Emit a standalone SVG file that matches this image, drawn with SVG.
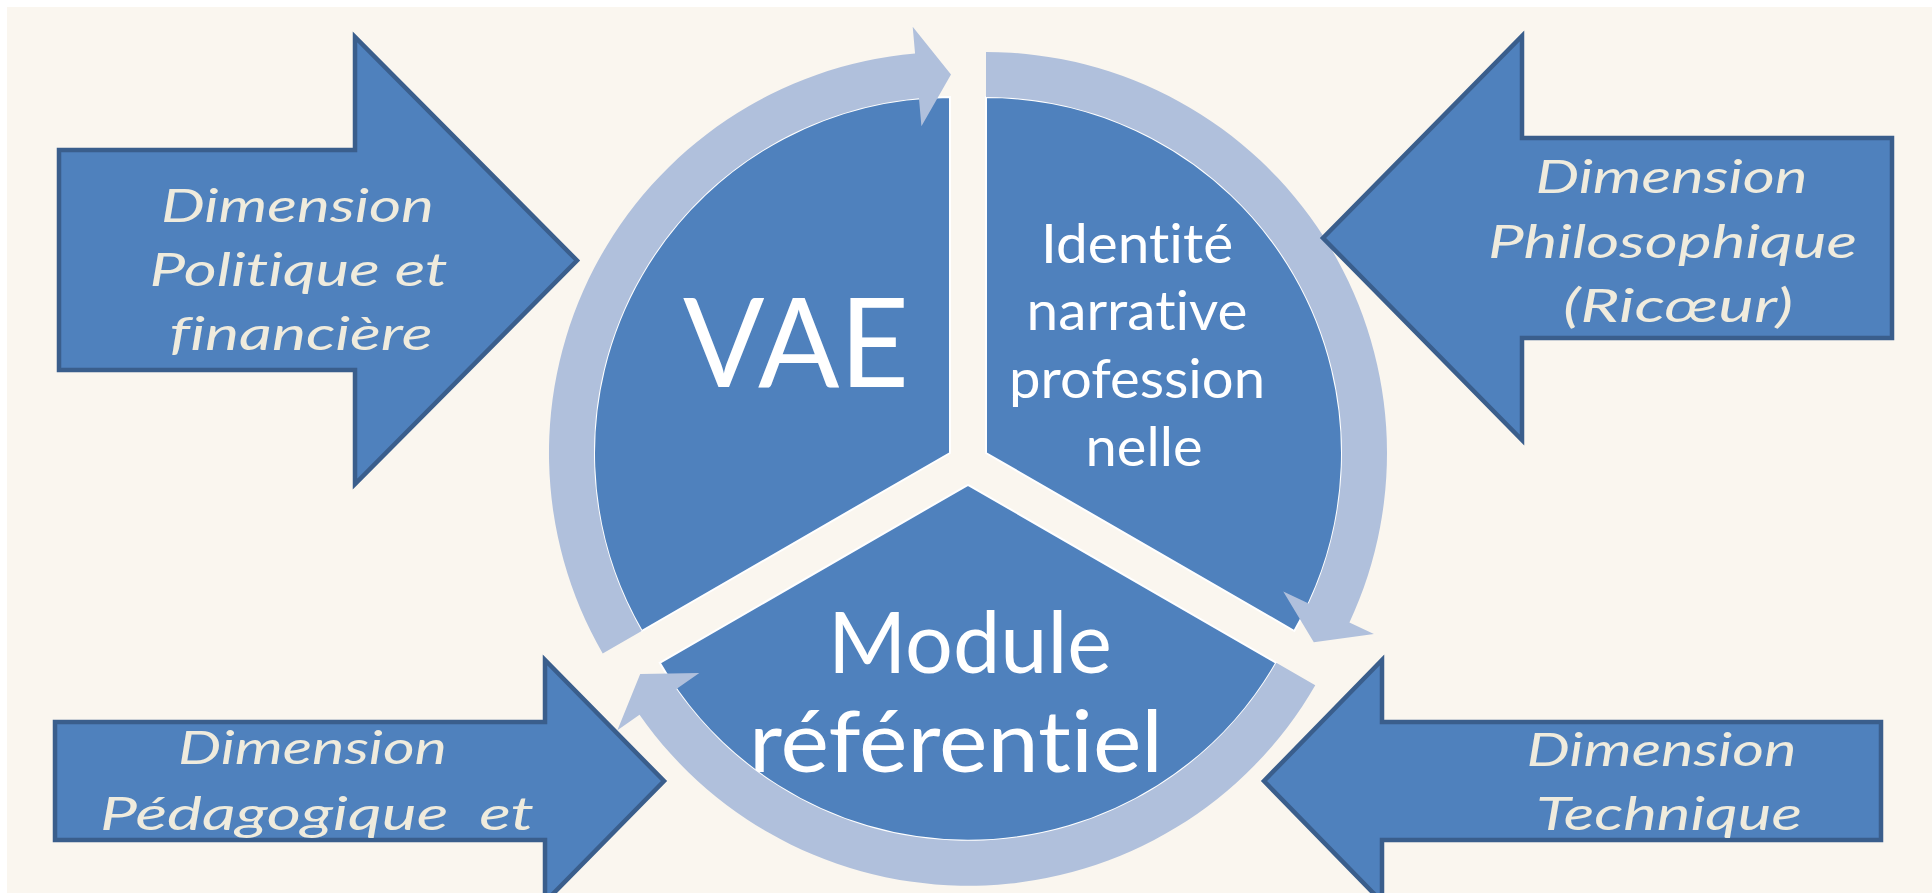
<svg xmlns="http://www.w3.org/2000/svg" width="1932" height="893" viewBox="0 0 1932 893">
  <style>
    .wedge { fill: #4F81BD; stroke: #FFFFFF; stroke-width: 2; }
    .ring { fill: #B0C0DC; }
    .barrow { fill: #4F81BD; stroke: #3A5E8C; stroke-width: 4.5; stroke-linejoin: miter; }
    .lbl { font-family: Lato, "Open Sans", sans-serif; font-style: italic; font-size: 47px; fill: #EFEBDD; text-anchor: middle; font-variant-ligatures: none; }
    .seg { font-family: Lato, "Liberation Sans", sans-serif; fill: #FFFFFF; text-anchor: middle; font-variant-ligatures: none; }
  </style>
  <rect x="0" y="0" width="1932" height="893" fill="#FFFFFF"/>
  <rect x="7" y="7" width="1925" height="886" fill="#FAF6EF"/>

  <g id="node-vae">
    <path class="wedge" d="M950,453 L641.7,631 A356,356 0 0 1 950,97 Z"/>
    <text class="seg" x="796" y="387" font-size="124" textLength="226" lengthAdjust="spacingAndGlyphs">VAE</text>
  </g>
  <g id="node-identite">
    <path class="wedge" d="M986,453 L986,97 A356,356 0 0 1 1294.3,631 Z"/>
    <text class="seg" font-size="54">
      <tspan x="1144" y="263" textLength="192" lengthAdjust="spacingAndGlyphs">Identité</tspan>
      <tspan x="1144" y="330" textLength="221" lengthAdjust="spacingAndGlyphs">narrative</tspan>
      <tspan x="1144" y="398" textLength="256" lengthAdjust="spacingAndGlyphs">profession</tspan>
      <tspan x="1144" y="466" textLength="117" lengthAdjust="spacingAndGlyphs">nelle</tspan>
    </text>
  </g>
  <g id="node-module">
    <path class="wedge" d="M968,484.8 L1276.3,662.8 A356,356 0 0 1 659.7,662.8 Z"/>
    <text class="seg" font-size="86">
      <tspan x="981" y="673" textLength="284" lengthAdjust="spacingAndGlyphs">Module</tspan>
      <tspan x="956" y="772" textLength="414" lengthAdjust="spacingAndGlyphs">référentiel</tspan>
    </text>
  </g>

  <g id="connectors">
    <path class="ring" d="M641.7,631 L602.7,653.5 A401,401 0 0 1 915.05,53.53 L912.7,26.63 L951,74.5 L921.41,126.25 L918.97,98.36 A356,356 0 0 0 641.7,631 Z"/>
    <path class="ring" d="M986,97 L986,52 A401,401 0 0 1 1349.43,622.47 L1373.9,633.88 L1313.79,642.25 L1283.27,591.62 L1308.65,603.45 A356,356 0 0 0 986,97 Z"/>
    <path class="ring" d="M1276.3,662.8 L1315.27,685.3 A401,401 0 0 1 639.52,714.8 L617.4,730.29 L640.21,674.05 L699.32,672.93 L676.38,688.99 A356,356 0 0 0 1276.3,662.8 Z"/>
  </g>

  <g id="node-politique">
    <path class="barrow" d="M59,150 L355,150 L355,37 L577,260.5 L355,484 L355,370 L59,370 Z"/>
    <text class="lbl">
      <tspan x="303" y="222" textLength="273" lengthAdjust="spacingAndGlyphs">Dimension</tspan>
      <tspan x="304" y="286" textLength="298" lengthAdjust="spacingAndGlyphs">Politique et</tspan>
      <tspan x="301" y="350" textLength="263" lengthAdjust="spacingAndGlyphs">financière</tspan>
    </text>
  </g>
  <g id="node-philosophique">
    <path class="barrow" d="M1892,138 L1522,138 L1522,36 L1323,238 L1522,440 L1522,338 L1892,338 Z"/>
    <text class="lbl">
      <tspan x="1677" y="193" textLength="272" lengthAdjust="spacingAndGlyphs">Dimension</tspan>
      <tspan x="1678" y="258" textLength="369" lengthAdjust="spacingAndGlyphs">Philosophique</tspan>
      <tspan x="1678" y="322" textLength="230" lengthAdjust="spacingAndGlyphs">(Ricœur)</tspan>
    </text>
  </g>
  <g id="node-pedagogique">
    <path class="barrow" d="M55,722 L545,722 L545,660 L664,781 L545,902 L545,840 L55,840 Z"/>
    <text class="lbl">
      <tspan x="318" y="764" textLength="269" lengthAdjust="spacingAndGlyphs">Dimension</tspan>
      <tspan x="317" y="830" textLength="434" lengthAdjust="spacingAndGlyphs">Pédagogique &#160;et</tspan>
    </text>
  </g>
  <g id="node-technique">
    <path class="barrow" d="M1881,722 L1382,722 L1382,660 L1264,781 L1382,902 L1382,840 L1881,840 Z"/>
    <text class="lbl">
      <tspan x="1667" y="766" textLength="270" lengthAdjust="spacingAndGlyphs">Dimension</tspan>
      <tspan x="1669" y="830" textLength="266" lengthAdjust="spacingAndGlyphs">Technique</tspan>
    </text>
  </g>
</svg>
